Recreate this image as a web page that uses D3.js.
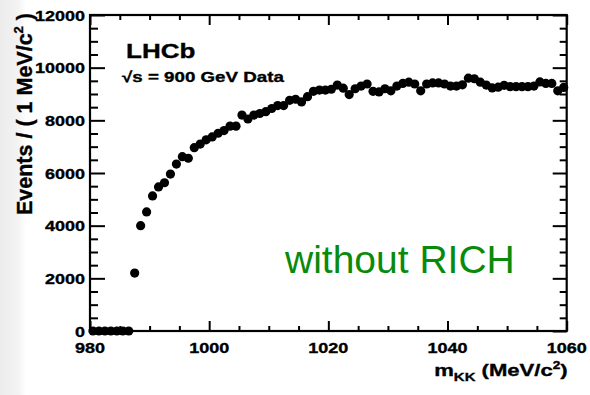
<!DOCTYPE html>
<html><head><meta charset="utf-8">
<script src="https://cdn.jsdelivr.net/npm/d3@7"></script>
<style>body{margin:0;background:#fff;}svg{display:block;}</style>
</head><body>
<script>
const masses = [980.5,981.5,982.5,983.5,984.5,985.5,986.5,987.5,988.5,989.5,
  990.5,991.5,992.5,993.5,994.5,995.5,996.5,997.5,998.5,999.5,
  1000.5,1001.5,1002.5,1003.5,1004.5,1005.5,1006.5,1007.5,1008.5,1009.5,
  1010.5,1011.5,1012.5,1013.5,1014.5,1015.5,1016.5,1017.5,1018.5,1019.5,
  1020.5,1021.5,1022.5,1023.5,1024.5,1025.5,1026.5,1027.5,1028.5,1029.5,
  1030.5,1031.5,1032.5,1033.5,1034.5,1035.5,1036.5,1037.5,1038.5,1039.5,
  1040.5,1041.5,1042.5,1043.5,1044.5,1045.5,1046.5,1047.5,1048.5,1049.5,
  1050.5,1051.5,1052.5,1053.5,1054.5,1055.5,1056.5,1057.5,1058.5,1059.5];
const events = [0,0,0,0,0,0,0,2200,4000,4520,
  5130,5470,5630,5960,6340,6620,6560,6960,7100,7260,
  7370,7510,7610,7780,7780,8200,8050,8200,8260,8330,
  8450,8560,8560,8760,8800,8700,8900,9100,9150,9150,
  9180,9340,9220,8980,9200,9300,9380,9100,9080,9200,
  9120,9300,9400,9450,9380,9120,9380,9420,9420,9380,
  9300,9300,9350,9600,9580,9450,9340,9230,9260,9330,
  9280,9280,9280,9280,9300,9460,9400,9400,9120,9250];
const xTickLabels = [980, 1000, 1020, 1040, 1060];
const yTickLabels = [0, 2000, 4000, 6000, 8000, 10000, 12000];
const xMinorStep = 5;
const yMinorStep = 500;

const W = 590, H = 395;
const L = 90, R = 566.7, T = 15, B = 331;
const svg = d3.select("body").append("svg").attr("width", W).attr("height", H);

const grad = svg.append("defs").append("linearGradient").attr("id","lg");
grad.append("stop").attr("offset","0%").attr("stop-color","#ececec");
grad.append("stop").attr("offset","70%").attr("stop-color","#f3f3f3");
grad.append("stop").attr("offset","100%").attr("stop-color","#ffffff");
svg.append("rect").attr("x",0).attr("y",0).attr("width",26).attr("height",H).attr("fill","url(#lg)");

const x = d3.scaleLinear().domain([980, 1060]).range([L, R]);
const y = d3.scaleLinear().domain([0, 12000]).range([B, T]);

const xMinor = d3.range(980, 1060 + 0.001, xMinorStep).filter(v => !xTickLabels.includes(v));
const yMinor = d3.range(0, 12000 + 0.001, yMinorStep).filter(v => !yTickLabels.includes(v));

function axis(gen, tr, vals, size) {
  const g = svg.append("g").attr("transform", tr)
    .call(gen.tickValues(vals).tickSize(size).tickSizeOuter(0).tickFormat(""));
  g.select(".domain").remove();
  g.selectAll("line").attr("stroke", "#000").attr("stroke-width", 2);
}
axis(d3.axisBottom(x), `translate(0,${B})`, xTickLabels, -10);
axis(d3.axisBottom(x), `translate(0,${B})`, xMinor, -5);
axis(d3.axisTop(x), `translate(0,${T})`, xTickLabels, -10);
axis(d3.axisTop(x), `translate(0,${T})`, xMinor, -5);
axis(d3.axisLeft(y), `translate(${L},0)`, yTickLabels, -15);
axis(d3.axisLeft(y), `translate(${L},0)`, yMinor, -8);
axis(d3.axisRight(y), `translate(${R},0)`, yTickLabels, -14);
axis(d3.axisRight(y), `translate(${R},0)`, yMinor, -7);

svg.append("rect").attr("x", L).attr("y", T).attr("width", R - L).attr("height", B - T)
  .attr("fill", "none").attr("stroke", "#000").attr("stroke-width", 2.2);

const SX = 1.2;
const font = "'Liberation Sans', Arial, Helvetica, sans-serif";
function heavy(sel) { return sel.attr("stroke", "#000").attr("stroke-width", 0.35); }

heavy(svg.append("g").selectAll("text").data(yTickLabels).join("text")
  .attr("transform", d => `translate(${L - 5},${y(d) + 5.5}) scale(${SX},1)`)
  .attr("text-anchor", "end").attr("font-family", font).attr("font-weight", "bold")
  .attr("font-size", 15).attr("fill", "#000").text(d => d));

heavy(svg.append("g").selectAll("text").data(xTickLabels).join("text")
  .attr("transform", d => `translate(${x(d)},${353}) scale(${SX},1)`)
  .attr("text-anchor", "middle").attr("font-family", font).attr("font-weight", "bold")
  .attr("font-size", 15).attr("fill", "#000").text(d => d));

const xt = heavy(svg.append("text").attr("transform", `translate(${R + 1},376) scale(1.3,1)`)
  .attr("text-anchor", "end").attr("font-family", font).attr("font-weight", "bold")
  .attr("font-size", 17).attr("fill", "#000"));
xt.append("tspan").text("m");
xt.append("tspan").attr("font-size", 11.5).attr("dy", 5).text("KK");
xt.append("tspan").attr("dy", -5).text(" (MeV/c");
xt.append("tspan").attr("font-size", 10.5).attr("dy", -7).text("2");
xt.append("tspan").attr("dy", 7).text(")");

const yt = heavy(svg.append("text").attr("transform", `translate(32,13) rotate(-90)`)
  .attr("text-anchor", "end").attr("font-family", font).attr("font-weight", "bold")
  .attr("font-size", 21.5).attr("fill", "#000"));
yt.append("tspan").text("Events / ( 1 MeV/c");
yt.append("tspan").attr("font-size", 13).attr("dy", -9).text("2");
yt.append("tspan").attr("dy", 9).text(" )");

svg.append("g").selectAll("circle").data(masses).join("circle")
  .attr("cx", d => x(d)).attr("cy", (d, i) => y(events[i])).attr("r", 4.6).attr("fill", "#000");

heavy(svg.append("text").attr("transform", `translate(126,58) scale(1.24,1)`)
  .attr("font-family", font).attr("font-weight", "bold").attr("font-size", 21).attr("fill", "#000").text("LHCb"));
heavy(svg.append("text").attr("transform", `translate(122,82) scale(1.25,1)`)
  .attr("font-family", font).attr("font-weight", "bold").attr("font-size", 15).attr("fill", "#000")
  .text("\u221As = 900 GeV Data"));

svg.append("text").attr("x", 285).attr("y", 273).attr("font-family", font).attr("font-size", 39)
  .attr("fill", "#0a8a0a").text("without RICH");
</script>
</body></html>
